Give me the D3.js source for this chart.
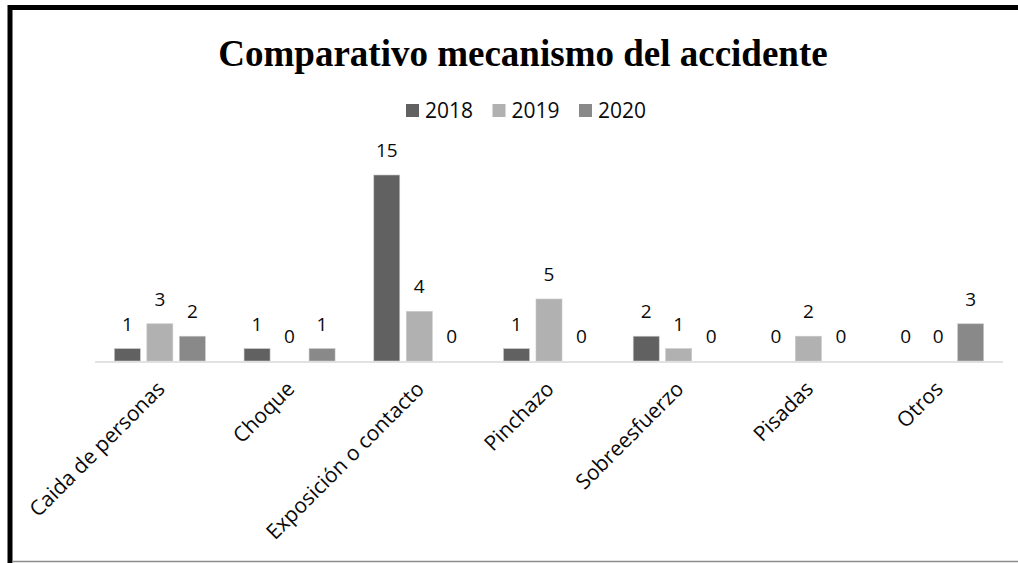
<!DOCTYPE html>
<html>
<head>
<meta charset="utf-8">
<script src="https://cdn.jsdelivr.net/npm/d3@7"></script>
<style>
  html, body { margin: 0; padding: 0; background: #fff; }
  svg { display: block; }
</style>
</head>
<body>
<svg id="chart" width="1018" height="563"></svg>
<script>
const title = "Comparativo mecanismo del accidente";
const categories = ["Caida de personas", "Choque", "Exposición o contacto", "Pinchazo", "Sobreesfuerzo", "Pisadas", "Otros"];
const seriesNames = ["2018", "2019", "2020"];
const values2018 = [1, 1, 15, 1, 2, 0, 0];
const values2019 = [3, 0, 4, 5, 1, 2, 0];
const values2020 = [2, 1, 0, 0, 0, 0, 3];
const seriesColors = ["#616161", "#b1b1b1", "#898989"];

const seriesValues = [values2018, values2019, values2020];
const svg = d3.select("#chart");
const W = 1018, H = 563;
svg.append("rect").attr("width", W).attr("height", H).attr("fill", "#fff");

// frame
svg.append("line").attr("x1", 10).attr("x2", W).attr("y1", 7.5).attr("y2", 7.5)
  .attr("stroke", "#000").attr("stroke-width", 5);
svg.append("line").attr("x1", 10).attr("x2", 10).attr("y1", 5).attr("y2", H)
  .attr("stroke", "#000").attr("stroke-width", 5);
svg.append("line").attr("x1", 12).attr("x2", W).attr("y1", 561.5).attr("y2", 561.5)
  .attr("stroke", "#8c8c8c").attr("stroke-width", 1.5);

// title
svg.append("text").attr("x", 523).attr("y", 66).attr("text-anchor", "middle")
  .attr("font-family", "'Liberation Serif', 'Times New Roman', serif")
  .attr("font-weight", "bold").attr("font-size", 37).attr("fill", "#000")
  .text(title);

// scales
const x0 = d3.scaleBand().domain(categories).range([95, 1003]).padding(0);
const bw = x0.bandwidth();
const x1 = d3.scaleBand().domain(seriesNames)
  .range([(bw - 97.5) / 2, (bw + 97.5) / 2]).paddingInner(0.2).paddingOuter(0.1);
const y = d3.scaleLinear().domain([0, 15]).range([361, 175]);

// legend
const legendX = d3.scalePoint().domain(seriesNames).range([406, 579]);
const lg = svg.append("g");
seriesNames.forEach((s, i) => {
  lg.append("rect").attr("x", legendX(s)).attr("y", 104).attr("width", 13).attr("height", 13)
    .attr("fill", seriesColors[i]);
  lg.append("text").attr("x", legendX(s) + 19).attr("y", 118)
    .attr("font-family", "'Open Sans', sans-serif").attr("font-size", 21).attr("fill", "#0a0a0a")
    .text(s);
});

// bars
const groups = svg.append("g").selectAll("g").data(categories).join("g")
  .attr("transform", d => `translate(${x0(d)},0)`);
groups.each(function(cat, ci) {
  const g = d3.select(this);
  seriesNames.forEach((s, si) => {
    const v = seriesValues[si][ci];
    if (v > 0) {
      g.append("rect").attr("x", x1(s)).attr("y", y(v)).attr("width", x1.bandwidth())
        .attr("height", y(0) - y(v)).attr("fill", seriesColors[si])
        .attr("stroke", "#c8c8c8").attr("stroke-width", 0.6);
    }
    g.append("text").attr("x", x1(s) + x1.bandwidth() / 2).attr("y", y(v) - 18)
      .attr("text-anchor", "middle")
      .attr("font-family", "'Open Sans', sans-serif").attr("font-size", 19).attr("fill", "#0a0a0a")
      .text(v);
  });
});

// axis line
svg.append("line").attr("x1", 95).attr("x2", 1003).attr("y1", 362).attr("y2", 362)
  .attr("stroke", "#d9d9d9").attr("stroke-width", 1.5);

// category labels
svg.append("g").selectAll("text").data(categories).join("text")
  .attr("transform", d => `translate(${x0(d) + bw / 2 + 1},385) rotate(-45)`)
  .attr("text-anchor", "end").attr("dy", "0.35em")
  .attr("font-family", "'Open Sans', sans-serif").attr("font-size", 21).attr("fill", "#0a0a0a")
  .text(d => d);
</script>
</body>
</html>
